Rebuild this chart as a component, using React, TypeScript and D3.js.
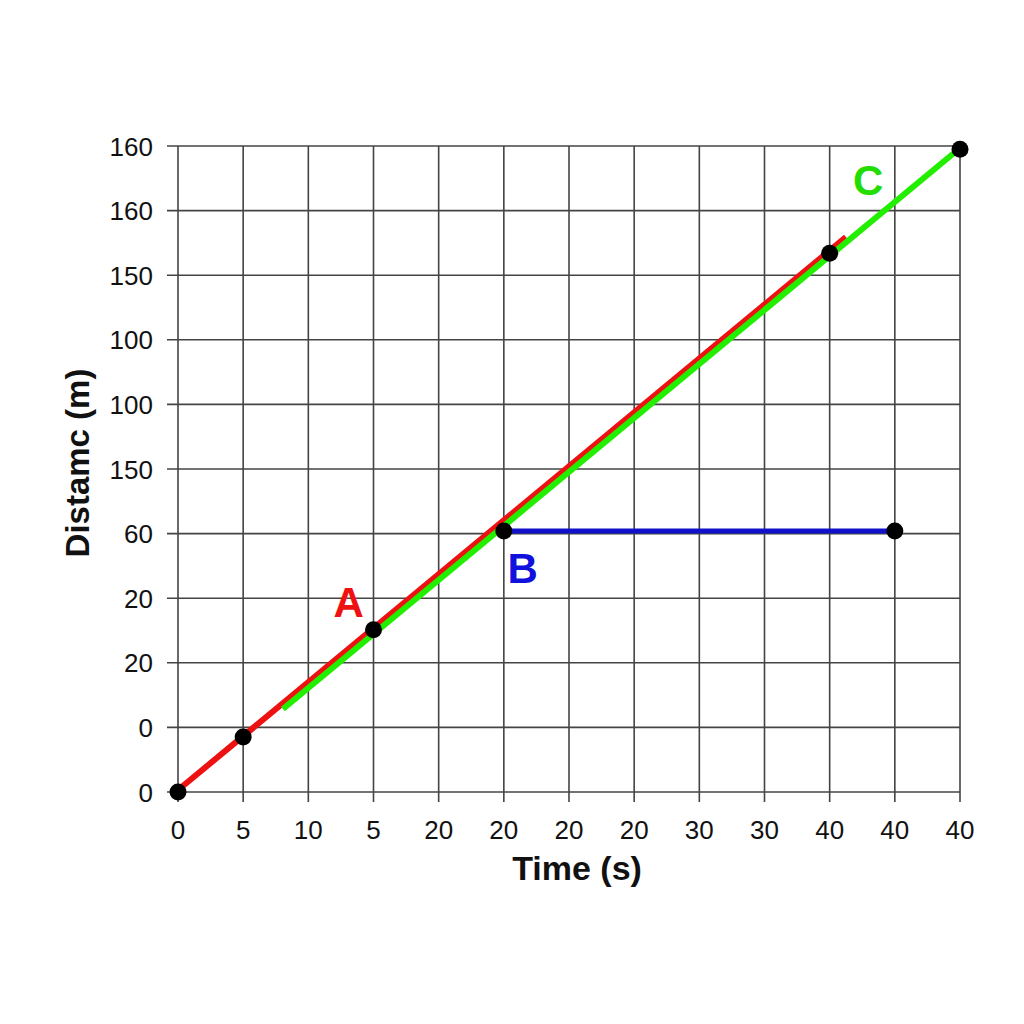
import React from "react";
import * as d3 from "d3";

const xTickLabels = ["0", "5", "10", "5", "20", "20", "20", "20", "30", "30", "40", "40", "40"];
const yTickLabels = ["0", "0", "20", "20", "60", "150", "100", "100", "150", "160", "160"];

// positions in grid units (column index, row index)
const lineA = [[0, 0.03], [10.25, 8.59]];
const lineC = [[1.61, 1.285], [12, 9.97]];
const lineB = [[5, 4.04], [11, 4.04]];
const points = [[0, 0], [1, 0.85], [3, 2.51], [5, 4.04], [10, 8.34], [11, 4.04], [12, 9.95]];
const labels = [
  { text: "A", x: 2.62, y: 2.71, color: "#ee1111" },
  { text: "B", x: 5.29, y: 3.24, color: "#1111dd" },
  { text: "C", x: 10.59, y: 9.24, color: "#22dd00" },
];

export default function App() {
  const W = 1024, H = 1024;
  const x = d3.scaleLinear().domain([0, 12]).range([178, 960]);
  const y = d3.scaleLinear().domain([0, 10]).range([792, 146]);
  const line = d3.line<number[]>().x((d) => x(d[0])).y((d) => y(d[1]));
  const font = "'Liberation Sans', Arial, sans-serif";
  const gridColor = "#444";
  return (
    <svg width={W} height={H} style={{ position: "absolute", left: 0, top: 0, background: "#fff" }}>
      <rect width={W} height={H} fill="#fff" />
      {d3.range(0, 13).map((i) => (
        <line key={"vx" + i} x1={x(i)} x2={x(i)} y1={y(10)} y2={y(0) + 10} stroke={gridColor} strokeWidth={1.6} />
      ))}
      {d3.range(0, 11).map((i) => (
        <line key={"hy" + i} x1={x(0) - 11} x2={x(12)} y1={y(i)} y2={y(i)} stroke={gridColor} strokeWidth={1.6} />
      ))}
      {xTickLabels.map((t, i) => (
        <text key={"xt" + i} x={x(i)} y={839} textAnchor="middle" fontFamily={font} fontSize={26} fill="#111">{t}</text>
      ))}
      {yTickLabels.map((t, i) => (
        <text key={"yt" + i} x={153} y={y(i) + 9.5} textAnchor="end" fontFamily={font} fontSize={26} fill="#111">{t}</text>
      ))}
      <text x={577} y={880} textAnchor="middle" fontFamily={font} fontSize={34} fontWeight="bold" fill="#111">Time (s)</text>
      <text transform={`translate(89,463) rotate(-90)`} textAnchor="middle" fontFamily={font} fontSize={33} fontWeight="bold" fill="#111">Distamc (m)</text>
      <path d={line(lineA as any) || ""} stroke="#ee1111" strokeWidth={6} fill="none" />
      <path d={line(lineC as any) || ""} stroke="#22ee00" strokeWidth={6} fill="none" />
      <path d={line(lineB as any) || ""} stroke="#1111cc" strokeWidth={5} fill="none" />
      {points.map((p, i) => (
        <circle key={"p" + i} cx={x(p[0])} cy={y(p[1])} r={8.5} fill="#000" />
      ))}
      {labels.map((l) => (
        <text key={l.text} x={x(l.x)} y={y(l.y)} textAnchor="middle" fontFamily={font} fontSize={42} fontWeight="bold" fill={l.color}>{l.text}</text>
      ))}
    </svg>
  );
}
